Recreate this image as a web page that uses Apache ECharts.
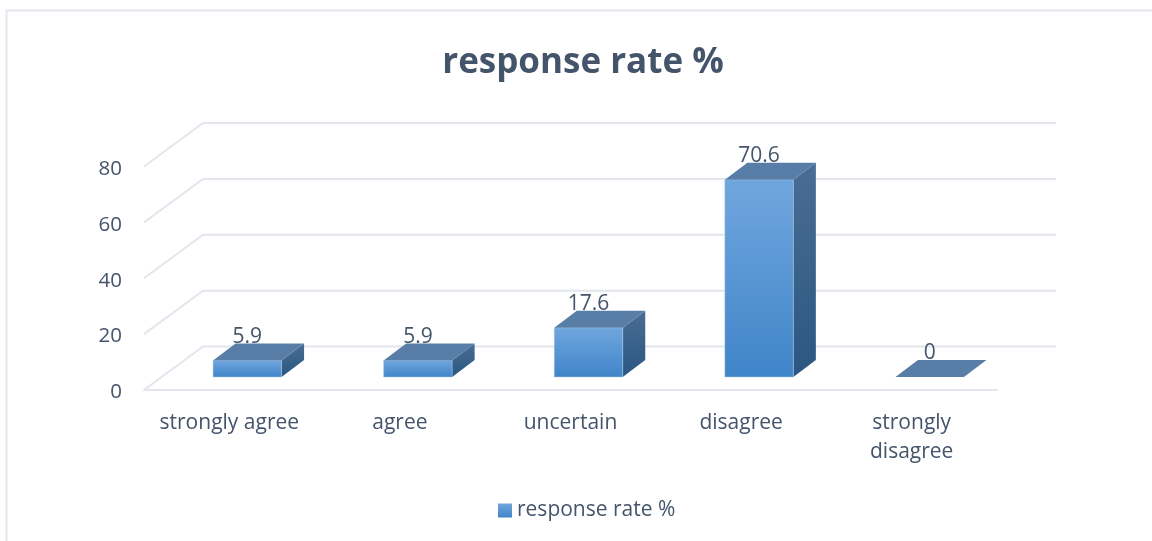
<!DOCTYPE html>
<html>
<head>
<meta charset="utf-8">
<style>html,body{margin:0;padding:0;background:#fff}#c{width:1152px;height:541px}</style>
<script src="https://cdn.jsdelivr.net/npm/echarts@6/dist/echarts.min.js"></script>
</head>
<body>
<div id="c"></div>
<script>
// Survey responses, drawn as pseudo-3D columns on a cartesian grid.
const categories = ['strongly agree', 'agree', 'uncertain', 'disagree', 'strongly\ndisagree'];
const responseRate = [5.9, 5.9, 17.6, 70.6, 0];
const yTicks = [0, 20, 40, 60, 80];
const seriesName = 'response rate %';
const chartTitle = 'response rate %';

const FONT = '"Open Sans"';
const TEXT = '#44546a';
const GRID = '#e3e6ed';

// Perspective offsets, in pixels, from the front floor edge.
const WALL = [59, -43.5];
const PLANE = [18, -13];
const DEPTH = [22.5, -17];
const BAR_W = 68.5;

const vGrad = (a, b) => ({ type: 'linear', x: 0, y: 0, x2: 0, y2: 1,
  colorStops: [{ offset: 0, color: a }, { offset: 1, color: b }] });

function renderWall(params, api) {
  const tick = api.value(0);
  const y = api.coord([0, tick])[1];
  const cs = params.coordSys;
  const x0 = cs.x, x1 = cs.x + cs.width;
  return {
    type: 'polyline',
    shape: { points: [[x0, y], [x0 + WALL[0], y + WALL[1]], [x1 + WALL[0], y + WALL[1]]] },
    style: { fill: 'none', stroke: GRID, lineWidth: 2 },
    silent: true
  };
}

function renderBar(params, api) {
  const idx = api.value(0);
  const val = api.value(1);
  const top = api.coord([idx, val]);
  const base = api.coord([idx, 0]);
  const l = top[0] + PLANE[0] - BAR_W / 2;
  const r = l + BAR_W;
  const yT = top[1] + PLANE[1];
  const yB = base[1] + PLANE[1];
  const dx = DEPTH[0], dy = DEPTH[1];
  const kids = [];
  if (yB - yT > 0.5) {
    kids.push({
      type: 'polygon',
      shape: { points: [[r, yT], [r + dx, yT + dy], [r + dx, yB + dy], [r, yB]] },
      style: { fill: vGrad('#4a6d94', '#2a5781') }
    });
    kids.push({
      type: 'rect',
      shape: { x: l, y: yT, width: BAR_W, height: yB - yT },
      style: { fill: vGrad('#70a6de', '#4085c9'), stroke: '#a9c9e8', lineWidth: 0.5 }
    });
  }
  // Value label sits under the top face, which clips its lower edge.
  kids.push({
    type: 'text',
    style: {
      text: String(val), x: (l + r) / 2, y: yT + dy - 6.5,
      align: 'center', verticalAlign: 'middle',
      font: '21px ' + FONT, fill: TEXT
    }
  });
  kids.push({
    type: 'polygon',
    shape: { points: [[l, yT], [l + dx, yT + dy], [r + dx, yT + dy], [r, yT]] },
    style: { fill: '#587ea8' }
  });
  return { type: 'group', children: kids };
}

const chart = echarts.init(document.getElementById('c'), null, { renderer: 'canvas' });
chart.setOption({
  animation: false,
  backgroundColor: '#fff',
  textStyle: { fontFamily: FONT },
  title: {
    text: chartTitle, left: 578, top: 41, textAlign: 'center',
    textStyle: { fontFamily: FONT, fontSize: 35, fontWeight: 'bold', color: TEXT }
  },
  legend: {
    data: [seriesName], left: 493, top: 495, icon: 'rect',
    itemWidth: 14, itemHeight: 14, itemGap: 10,
    textStyle: { fontFamily: FONT, fontSize: 21, color: TEXT }
  },
  grid: { left: 144, right: 155, top: 166.5, bottom: 151, containLabel: false },
  xAxis: {
    type: 'category', data: categories, boundaryGap: true,
    axisTick: { show: false },
    axisLine: { show: true, lineStyle: { color: GRID, width: 2 } },
    axisLabel: { interval: 0, fontFamily: FONT, fontSize: 21, color: TEXT, margin: 19, lineHeight: 29 }
  },
  yAxis: {
    type: 'value', min: 0, max: 80, interval: 20,
    axisLine: { show: false }, axisTick: { show: false }, splitLine: { show: false },
    axisLabel: {
      margin: 22,
      formatter: '{t|{value}}',
      rich: { t: { fontFamily: FONT, fontSize: 20.5, color: TEXT, padding: [5, 0, 0, 0] } }
    }
  },
  series: [
    { name: 'wall', type: 'custom', silent: true, z: 1, clip: false,
      renderItem: renderWall, data: yTicks.map(t => [t]), encode: { y: 0 } },
    { name: seriesName, type: 'custom', z: 2, clip: false,
      itemStyle: { color: vGrad('#70a6de', '#4085c9') },
      renderItem: renderBar,
      data: responseRate.map((v, i) => [i, v]), encode: { x: 0, y: 1 } }
  ],
  graphic: [
    { type: 'polyline', silent: true, z: 0,
      shape: { points: [[6.5, 541], [6.5, 10.5], [1152, 10.5]] },
      style: { fill: 'none', stroke: GRID, lineWidth: 2 } }
  ]
});
</script>
</body>
</html>
